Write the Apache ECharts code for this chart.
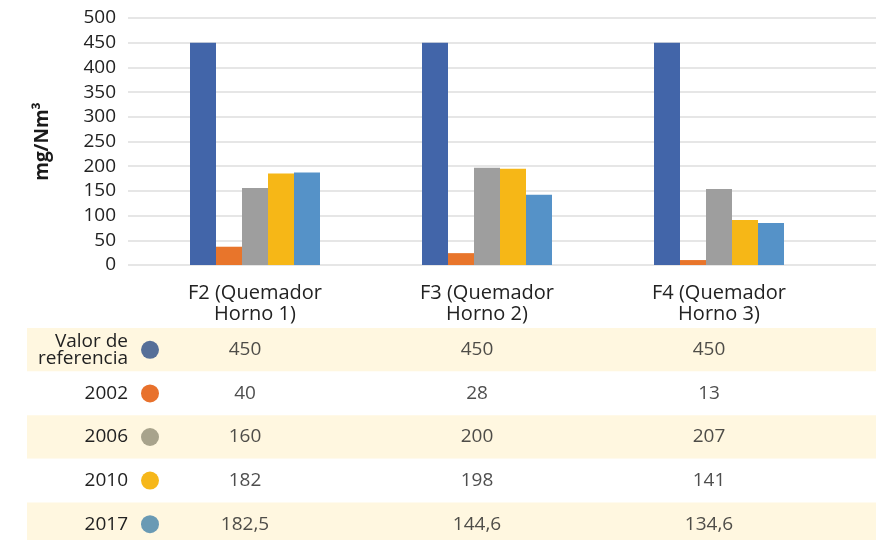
<!DOCTYPE html>
<html>
<head>
    <meta charset="utf-8">
    <title>Emisiones</title>
    <script src="https://cdn.jsdelivr.net/npm/echarts@6/dist/echarts.min.js"></script>
    <style>
        html, body { margin: 0; padding: 0; background: #fff; }
    </style>
</head>
<body>
    <div id="main" style="width: 876px;height:540px;"></div>
    <script type="text/javascript">

    // categorias (hornos)
    var categorias = ['F2 (Quemador\nHorno 1)', 'F3 (Quemador\nHorno 2)', 'F4 (Quemador\nHorno 3)'];
    var series = ['Valor de\nreferencia', '2002', '2006', '2010', '2017'];

    // alturas de las barras
    var barraRef  = [450, 450, 450];
    var barra2002 = [37, 24, 10];
    var barra2006 = [156, 197, 154];
    var barra2010 = [185, 195, 91];
    var barra2017 = [187, 142, 85];

    // valores de la tabla inferior
    var tablaRef  = [450, 450, 450];
    var tabla2002 = [40, 28, 13];
    var tabla2006 = [160, 200, 207];
    var tabla2010 = [182, 198, 141];
    var tabla2017 = [182.5, 144.6, 134.6];

    var ticksY = [0, 50, 100, 150, 200, 250, 300, 350, 400, 450, 500];

    var coloresBarra = ['#4265a9', '#e8752b', '#9e9e9e', '#f6b717', '#5592c8'];
    var coloresPunto = ['#566f98', '#e8712c', '#a8a38c', '#f6b71a', '#6a9ab4'];

    var fuente = '"Open Sans", sans-serif';
    var colorTexto = '#222';
    var barras = [barraRef, barra2002, barra2006, barra2010, barra2017];
    var tabla = [tablaRef, tabla2002, tabla2006, tabla2010, tabla2017];

    var myChart = echarts.init(document.getElementById('main'));

    // series de barras
    var seriesList = [];
    for (var i = 0; i < barras.length; i++) {
        seriesList.push({
            name: series[i].replace('\n', ' '),
            type: 'bar',
            xAxisIndex: 1,
            yAxisIndex: 1,
            barWidth: 26,
            barGap: '0%',
            itemStyle: { color: coloresBarra[i] },
            data: barras[i]
        });
    }

    // celdas de la tabla
    var celdas = [];
    for (var r = 0; r < tabla.length; r++) {
        for (var c = 0; c < categorias.length; c++) {
            celdas.push([c, r, String(tabla[r][c]).replace('.', ',')]);
        }
    }
    seriesList.push({
        type: 'scatter',
        xAxisIndex: 3,
        yAxisIndex: 3,
        symbolSize: 0,
        silent: true,
        label: {
            show: true,
            position: 'inside',
            formatter: function (p) { return p.data[2]; },
            color: colorTexto,
            fontFamily: fuente,
            fontSize: 19
        },
        data: celdas
    });

    var puntosRich = {};
    for (var k = 0; k < coloresPunto.length; k++) {
        puntosRich['d' + k] = { width: 18, height: 18, borderRadius: 9, backgroundColor: coloresPunto[k] };
    }

    var option = {
        animation: false,
        grid: [
            { left: 128, right: 0, top: 18, height: 247, outerBoundsMode: 'none' },
            { left: 139, width: 696, top: 18, height: 247, outerBoundsMode: 'none' },
            { left: 27, right: 0, top: 328, height: 218, outerBoundsMode: 'none' },
            { left: 129, width: 696, top: 328, height: 218, outerBoundsMode: 'none' }
        ],
        xAxis: [
            { gridIndex: 0, type: 'value', min: 0, max: 1, show: false },
            {
                gridIndex: 1,
                type: 'category',
                data: categorias,
                axisLine: { show: false },
                axisTick: { show: false },
                axisLabel: {
                    margin: 18,
                    color: colorTexto,
                    fontFamily: fuente,
                    fontSize: 20,
                    lineHeight: 21
                }
            },
            { gridIndex: 2, type: 'value', min: 0, max: 1, show: false },
            { gridIndex: 3, type: 'category', data: categorias, show: false }
        ],
        yAxis: [
            {
                gridIndex: 0,
                type: 'value',
                min: 0,
                max: 500,
                interval: 50,
                name: 'mg/Nm³',
                nameLocation: 'middle',
                nameGap: 76,
                nameTextStyle: { fontFamily: fuente, fontSize: 19, fontWeight: 'bold', color: '#1a1a1a' },
                axisLine: { show: false },
                axisTick: { show: false },
                axisLabel: {
                    margin: 12,
                    color: colorTexto,
                    fontFamily: fuente,
                    fontSize: 19,
                    formatter: function (v) { return ticksY.indexOf(v) >= 0 ? String(v) : ''; }
                },
                splitLine: { lineStyle: { color: '#e6e6e6', width: 2 } }
            },
            { gridIndex: 1, type: 'value', min: 0, max: 500, interval: 50, show: false },
            {
                gridIndex: 2,
                type: 'category',
                inverse: true,
                data: series,
                axisLine: { show: false },
                axisTick: { show: false },
                axisLabel: { show: false },
                splitArea: { show: true, areaStyle: { color: ['#fff7e0', '#ffffff'] } }
            },
            {
                gridIndex: 3,
                type: 'category',
                inverse: true,
                data: series,
                axisLine: { show: false },
                axisTick: { show: false },
                axisLabel: {
                    margin: 1,
                    color: colorTexto,
                    fontFamily: fuente,
                    fontSize: 19,
                    lineHeight: 17
                }
            },
            {
                gridIndex: 3,
                type: 'category',
                inverse: true,
                position: 'left',
                data: series,
                axisLine: { show: false },
                axisTick: { show: false },
                axisLabel: {
                    inside: true,
                    margin: 12,
                    formatter: function (v, idx) { return '{d' + idx + '|}'; },
                    rich: puntosRich
                }
            }
        ],
        series: seriesList
    };

    myChart.setOption(option);
    </script>
</body>
</html>
